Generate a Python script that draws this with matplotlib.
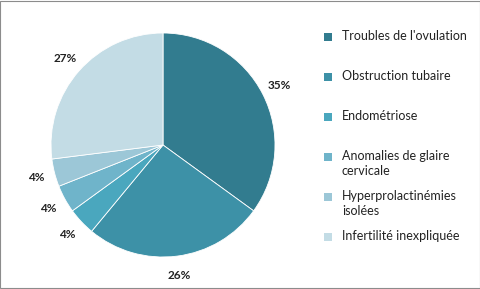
import matplotlib
matplotlib.use('Agg')
import matplotlib.pyplot as plt
from matplotlib.patches import Rectangle

labels = ["Troubles de l'ovulation", "Obstruction tubaire", "Endométriose",
          "Anomalies de glaire\ncervicale", "Hyperprolactinémies\nisolées",
          "Infertilité inexpliquée"]
values = [35, 26, 4, 4, 4, 27]
colors = ["#327C8F", "#3D91A7", "#4AA7BE", "#6FB4CA", "#9CC7D7", "#C3DCE5"]

plt.rcParams['font.family'] = ['Lato', 'DejaVu Sans']

fig = plt.figure(figsize=(4.81, 2.89), dpi=100)
# outer border
fig.patches.append(Rectangle((0.001, 0.002), 0.997, 0.995, transform=fig.transFigure,
                             fill=False, edgecolor="#8c8c8c", linewidth=0.8))

# pie axis: center (163,145) px, radius 112 px
W, H = 481, 289
cx, cy, r = 163, 145, 112
ax = fig.add_axes([(cx - r) / W, (H - cy - r) / H, 2 * r / W, 2 * r / H])
wedges, texts, autotexts = ax.pie(values, colors=colors, startangle=90, counterclock=False,
                                  autopct='%d%%', pctdistance=1.17,
                                  wedgeprops=dict(edgecolor='white', linewidth=0.6))
for t in autotexts:
    t.set_fontsize(8.5)
    t.set_fontweight('bold')
    t.set_color('#222222')
ax.set_xlim(-1, 1)
ax.set_ylim(-1, 1)
ax.set_aspect('equal')

# legend drawn manually: entries every 40 px
for i, (lab, col) in enumerate(zip(labels, colors)):
    ytop = 30 + i * 40
    fig.patches.append(Rectangle((324 / W, 1 - (ytop + 11) / H), 8 / W, 8 / H,
                                 transform=fig.transFigure, facecolor=col, edgecolor='none'))
    fig.text(342 / W, 1 - ytop / H, lab, fontsize=9, va='top', ha='left',
             color='#222222', linespacing=1.3)

fig.savefig('out.png', dpi=100)
